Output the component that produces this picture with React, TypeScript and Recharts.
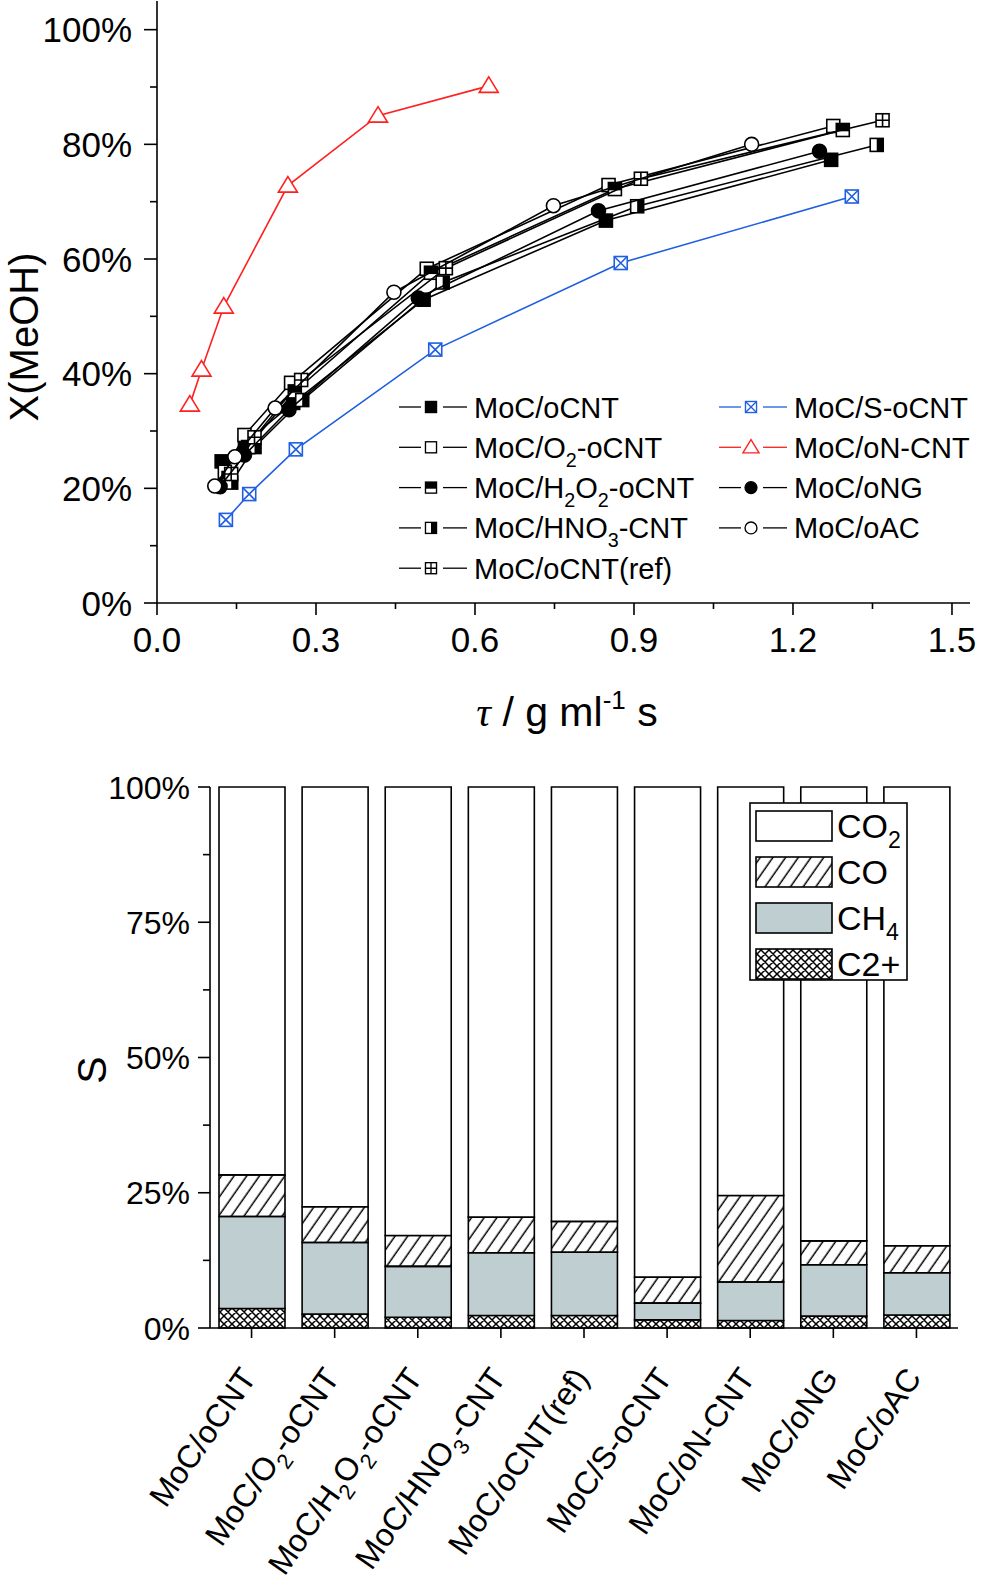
import React from 'react'
import { ScatterChart, Scatter, BarChart, Bar, XAxis, YAxis, Legend, Label } from 'recharts'

const FONT = '"Liberation Sans", Arial, sans-serif'
const BLUE = '#1f5fe0'
const RED = '#ff2020'
const GREY = '#bfcfd1'

type Pt = { t: number; v: number }
const pts = (a: number[][]): Pt[] => a.map(([t, v]) => ({ t, v }))

// ---- top chart: conversion vs contact time ----
const tauTicks = [0, 0.15, 0.3, 0.45, 0.6, 0.75, 0.9, 1.05, 1.2, 1.35, 1.5]
const convTicks = [0, 10, 20, 30, 40, 50, 60, 70, 80, 90, 100]

const oCNT = pts([[0.122, 24.7], [0.166, 27.9], [0.257, 34.9], [0.503, 52.9], [0.847, 66.7], [1.272, 77.3]])
const o2OCNT = pts([[0.128, 22.9], [0.165, 29.3], [0.253, 38.4], [0.509, 58.3], [0.852, 72.9], [1.276, 83.2]])
const h2o2OCNT = pts([[0.135, 21.8], [0.172, 27.2], [0.26, 36.9], [0.517, 57.6], [0.864, 72.2], [1.294, 82.5]])
const hno3CNT = pts([[0.14, 21.0], [0.184, 27.2], [0.274, 35.4], [0.539, 55.9], [0.906, 69.2], [1.358, 79.9]])
const oCNTref = pts([[0.14, 22.5], [0.184, 28.9], [0.272, 38.9], [0.545, 58.4], [0.913, 74.0], [1.369, 84.2]])
const sOCNT = pts([[0.13, 14.5], [0.174, 19.0], [0.262, 26.8], [0.525, 44.2], [0.875, 59.3], [1.311, 70.9]])
const oNCNT = pts([[0.062, 34.6], [0.084, 40.7], [0.126, 51.7], [0.247, 72.8], [0.417, 85.0], [0.626, 90.2]])
const oNG = pts([[0.119, 20.3], [0.165, 25.8], [0.249, 33.7], [0.493, 53.2], [0.833, 68.4], [1.25, 78.8]])
const oAC = pts([[0.109, 20.4], [0.147, 25.5], [0.223, 34.0], [0.447, 54.2], [0.748, 69.3], [1.122, 80.0]])

const series = [
  { name: 'MoC/oCNT', data: oCNT, kind: 'sq', color: '#000' },
  { name: 'MoC/O2-oCNT', data: o2OCNT, kind: 'osq', color: '#000' },
  { name: 'MoC/H2O2-oCNT', data: h2o2OCNT, kind: 'hup', color: '#000' },
  { name: 'MoC/HNO3-CNT', data: hno3CNT, kind: 'hright', color: '#000' },
  { name: 'MoC/oCNT(ref)', data: oCNTref, kind: 'plus', color: '#000' },
  { name: 'MoC/S-oCNT', data: sOCNT, kind: 'cross', color: BLUE },
  { name: 'MoC/oN-CNT', data: oNCNT, kind: 'tri', color: RED },
  { name: 'MoC/oNG', data: oNG, kind: 'dot', color: '#000' },
  { name: 'MoC/oAC', data: oAC, kind: 'circ', color: '#000' },
]

// ---- bottom chart: selectivity (stacked, %) ----
const catalysts = [
  'MoC/oCNT', 'MoC/O2-oCNT', 'MoC/H2O2-oCNT', 'MoC/HNO3-CNT', 'MoC/oCNT(ref)',
  'MoC/S-oCNT', 'MoC/oN-CNT', 'MoC/oNG', 'MoC/oAC',
]
const selC2 = [3.6, 2.6, 2.0, 2.3, 2.3, 1.5, 1.4, 2.2, 2.4]
const selCH4 = [17.0, 13.2, 9.4, 11.6, 11.7, 3.1, 7.1, 9.5, 7.8]
const selCO = [7.7, 6.6, 5.7, 6.6, 5.7, 4.8, 16.0, 4.4, 5.0]
const selCO2 = [71.7, 77.6, 82.9, 79.5, 80.3, 90.6, 75.5, 83.9, 84.8]
const selTicks = [0, 12.5, 25, 37.5, 50, 62.5, 75, 87.5, 100]

const selData = catalysts.map((name, i) => ({
  name, c2: selC2[i], ch4: selCH4[i], co: selCO[i], co2: selCO2[i],
}))

const barLegend = [
  { label: 'CO2', fill: '#fff' },
  { label: 'CO', fill: 'url(#hatch)' },
  { label: 'CH4', fill: GREY },
  { label: 'C2+', fill: 'url(#xhatch)' },
]

// digits right after a capital letter are subscripts (O2, H2O2, HNO3, CH4), not C2+
const sub = (label: string, size: number) => {
  const parts = label.split(/(?<=[A-Z])(\d)(?!\+)/)
  const shift = size * 0.3
  return parts.map((p, i) =>
    i % 2 === 1 ? (
      <tspan key={i} fontSize={size * 0.68} dy={shift}>{p}</tspan>
    ) : (
      <tspan key={i} dy={i === 0 ? 0 : -shift}>{p}</tspan>
    )
  )
}

const Marker = ({ kind, cx, cy, color }: { kind: string; cx: number; cy: number; color: string }) => {
  const s = 6.5
  const sw = 1.6
  const box = (fill: string) => (
    <rect x={cx - s} y={cy - s} width={2 * s} height={2 * s} fill={fill} stroke={color} strokeWidth={sw} />
  )
  switch (kind) {
    case 'sq':
      return box(color)
    case 'osq':
      return box('#fff')
    case 'hup':
      return (
        <g>
          {box('#fff')}
          <rect x={cx - s} y={cy - s} width={2 * s} height={s * 1.2} fill={color} />
        </g>
      )
    case 'hright':
      return (
        <g>
          {box('#fff')}
          <rect x={cx} y={cy - s} width={s} height={2 * s} fill={color} />
        </g>
      )
    case 'plus':
      return (
        <g>
          {box('#fff')}
          <path d={`M${cx - s},${cy}H${cx + s}M${cx},${cy - s}V${cy + s}`} stroke={color} strokeWidth={sw} />
        </g>
      )
    case 'cross':
      return (
        <g>
          {box('#fff')}
          <path d={`M${cx - s},${cy - s}L${cx + s},${cy + s}M${cx + s},${cy - s}L${cx - s},${cy + s}`} stroke={color} strokeWidth={sw} />
        </g>
      )
    case 'tri':
      return <path d={`M${cx},${cy - 9}L${cx + 9.5},${cy + 6.5}L${cx - 9.5},${cy + 6.5}Z`} fill="#fff" stroke={color} strokeWidth={sw} />
    case 'dot':
      return <circle cx={cx} cy={cy} r={7} fill={color} stroke={color} strokeWidth={sw} />
    default:
      return <circle cx={cx} cy={cy} r={7} fill="#fff" stroke={color} strokeWidth={sw} />
  }
}

const isMajor = (v: number, step: number) => Math.abs(v / step - Math.round(v / step)) < 1e-6

const TauTick = (p: any) => {
  const v = p.payload.value
  const major = isMajor(v, 0.3)
  return (
    <g>
      <line x1={p.x} y1={p.y} x2={p.x} y2={p.y + (major ? 12 : 6)} stroke="#000" strokeWidth={1.6} />
      {major && (
        <text x={p.x} y={p.y + 49} textAnchor="middle" fontSize={35} fontFamily={FONT} fill="#000">
          {v.toFixed(1)}
        </text>
      )}
    </g>
  )
}

const ConvTick = (p: any) => {
  const v = p.payload.value
  const major = isMajor(v, 20)
  return (
    <g>
      <line x1={p.x} y1={p.y} x2={p.x - (major ? 13 : 7)} y2={p.y} stroke="#000" strokeWidth={1.6} />
      {major && (
        <text x={p.x - 25} y={p.y + 12.5} textAnchor="end" fontSize={35} fontFamily={FONT} fill="#000">
          {v}%
        </text>
      )}
    </g>
  )
}

const SelTick = (p: any) => {
  const v = p.payload.value
  const major = isMajor(v, 25)
  return (
    <g>
      <line x1={p.x} y1={p.y} x2={p.x - (major ? 12 : 7)} y2={p.y} stroke="#000" strokeWidth={1.6} />
      {major && (
        <text x={p.x - 20} y={p.y + 11.5} textAnchor="end" fontSize={32} fontFamily={FONT} fill="#000">
          {v}%
        </text>
      )}
    </g>
  )
}

const CatTick = (p: any) => (
  <g>
    <line x1={p.x} y1={p.y} x2={p.x} y2={p.y + 10} stroke="#000" strokeWidth={1.6} />
    <text
      transform={`translate(${p.x + 6},${p.y + 50}) rotate(-55)`}
      textAnchor="end"
      fontSize={32}
      fontFamily={FONT}
      fill="#000"
    >
      {sub(p.payload.value, 32)}
    </text>
  </g>
)

// legend of the top chart, drawn in page coordinates minus (380, 380)
const TopLegend = () => (
  <svg width={600} height={215} style={{ overflow: 'visible' }}>
    {series.map((s, i) => {
      const col = i < 5 ? 0 : 1
      const row = i < 5 ? i : i - 5
      const cy = 27 + row * 40.3
      const mx = col === 0 ? 51 : 371
      return (
        <g key={s.name}>
          <line x1={mx - 32} y1={cy} x2={mx - 10} y2={cy} stroke={s.color} strokeWidth={1.3} />
          <line x1={mx + 12} y1={cy} x2={mx + 36} y2={cy} stroke={s.color} strokeWidth={1.3} />
          <g transform={`translate(${mx},${cy}) scale(0.85) translate(${-mx},${-cy})`}>
            <Marker kind={s.kind} cx={mx} cy={cy} color={s.color} />
          </g>
          <text x={mx + 43} y={cy + 10.5} fontSize={29} fontFamily={FONT} fill="#000">
            {sub(s.name, 29)}
          </text>
        </g>
      )
    })}
  </svg>
)

const BarLegend = () => (
  <svg width={170} height={190} style={{ overflow: 'visible' }}>
    <rect x={5} y={5} width={157} height={177} fill="#fff" stroke="#000" strokeWidth={1.6} />
    {barLegend.map((b, i) => {
      const top = 13 + i * 46
      return (
        <g key={b.label}>
          <rect x={11} y={top} width={76} height={30} fill={b.fill} stroke="#000" strokeWidth={1.6} />
          <text x={92} y={top + 27} fontSize={34} fontFamily={FONT} fill="#000">
            {sub(b.label, 34)}
          </text>
        </g>
      )
    })}
  </svg>
)

export default function App() {
  return (
    <div style={{ position: 'absolute', left: 0, top: 0, width: 981, height: 1582, background: '#fff' }}>
      <svg width={0} height={0} style={{ position: 'absolute' }}>
        <defs>
          <pattern id="hatch" patternUnits="userSpaceOnUse" width={10.4} height={40} patternTransform="rotate(35)">
            <line x1={5} y1={-5} x2={5} y2={45} stroke="#000" strokeWidth={1.5} />
          </pattern>
          <pattern id="xhatch" patternUnits="userSpaceOnUse" width={8} height={8}>
            <rect width={8} height={8} fill="#fff" />
            <path d="M-2,2L2,-2M0,8L8,0M6,10L10,6M-2,6L2,10M0,0L8,8M6,-2L10,2" stroke="#000" strokeWidth={1.5} />
          </pattern>
        </defs>
      </svg>

      <div style={{ position: 'absolute', left: 0, top: 0 }}>
        <ScatterChart width={981} height={745} margin={{ top: 1, right: 11, bottom: 0, left: 0 }}>
          <XAxis
            type="number"
            dataKey="t"
            domain={[0, 1.534]}
            ticks={tauTicks}
            interval={0}
            allowDataOverflow
            height={142}
            tickSize={0}
            tickMargin={0}
            tickLine={false}
            tick={TauTick}
            axisLine={{ stroke: '#000', strokeWidth: 1.6 }}
          >
            <Label
              content={() => (
                <text x={567} y={726} textAnchor="middle" fontSize={41} fontFamily={FONT} fill="#000">
                  <tspan fontFamily='"Liberation Serif", serif' fontStyle="italic">τ</tspan>
                  <tspan> / g ml</tspan>
                  <tspan fontSize={26} dy={-17}>-1</tspan>
                  <tspan dy={17}> s</tspan>
                </text>
              )}
            />
          </XAxis>
          <YAxis
            type="number"
            dataKey="v"
            domain={[0, 105]}
            ticks={convTicks}
            interval={0}
            allowDataOverflow
            width={157}
            tickSize={0}
            tickMargin={0}
            tickLine={false}
            tick={ConvTick}
            axisLine={{ stroke: '#000', strokeWidth: 1.6 }}
          >
            <Label
              content={() => (
                <text
                  transform="translate(38,337) rotate(-90)"
                  textAnchor="middle"
                  fontSize={40}
                  fontFamily={FONT}
                  fill="#000"
                >
                  X(MeOH)
                </text>
              )}
            />
          </YAxis>
          {series.map((s) => (
            <Scatter
              key={s.name}
              name={s.name}
              data={s.data}
              fill={s.color}
              line={{ stroke: s.color, strokeWidth: 1.6 }}
              isAnimationActive={false}
              shape={(p: any) => <Marker kind={s.kind} cx={p.cx} cy={p.cy} color={s.color} />}
            />
          ))}
          <Legend
            layout="vertical"
            align="center"
            verticalAlign="middle"
            content={() => <TopLegend />}
            wrapperStyle={{ left: 380, top: 380, width: 600, height: 215 }}
          />
        </ScatterChart>
      </div>

      <div style={{ position: 'absolute', left: 0, top: 740 }}>
        <BarChart width={981} height={842} data={selData} margin={{ top: 47, right: 23, bottom: 0, left: 0 }}>
          <XAxis
            dataKey="name"
            interval={0}
            height={254}
            tickSize={0}
            tickMargin={0}
            tickLine={false}
            tick={CatTick}
            axisLine={{ stroke: '#000', strokeWidth: 1.6 }}
          />
          <YAxis
            type="number"
            domain={[0, 100]}
            ticks={selTicks}
            interval={0}
            width={210}
            tickSize={0}
            tickMargin={0}
            tickLine={false}
            tick={SelTick}
            axisLine={{ stroke: '#000', strokeWidth: 1.6 }}
          >
            <Label
              content={() => (
                <text
                  transform="translate(106,330) rotate(-90)"
                  textAnchor="middle"
                  fontSize={41}
                  fontFamily={FONT}
                  fill="#000"
                >
                  S
                </text>
              )}
            />
          </YAxis>
          <Bar dataKey="c2" stackId="s" barSize={66} fill="url(#xhatch)" stroke="#000" strokeWidth={1.6} isAnimationActive={false} />
          <Bar dataKey="ch4" stackId="s" barSize={66} fill={GREY} stroke="#000" strokeWidth={1.6} isAnimationActive={false} />
          <Bar dataKey="co" stackId="s" barSize={66} fill="url(#hatch)" stroke="#000" strokeWidth={1.6} isAnimationActive={false} />
          <Bar dataKey="co2" stackId="s" barSize={66} fill="#fff" stroke="#000" strokeWidth={1.6} isAnimationActive={false} />
          <Legend
            layout="vertical"
            align="center"
            verticalAlign="middle"
            content={() => <BarLegend />}
            wrapperStyle={{ left: 745, top: 58, width: 170, height: 190 }}
          />
        </BarChart>
      </div>
    </div>
  )
}
